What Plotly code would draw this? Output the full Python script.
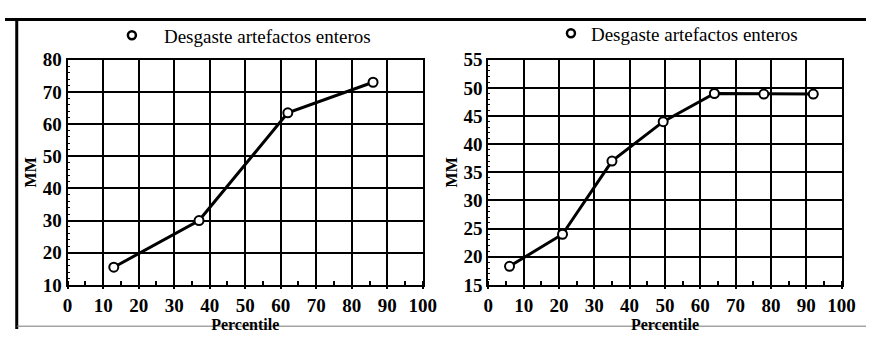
import plotly.graph_objects as go

W, H = 880, 340

left_pct = [13, 37, 62, 86]
left_mm = [15.5, 30, 63.5, 73]
right_pct = [6, 21, 35, 49.5, 64, 78, 92]
right_mm = [18.3, 24, 37, 44, 49, 48.9, 48.9]

series_name = "Desgaste artefactos enteros"
x_title = "Percentile"
y_title = "MM"

FONT = "Liberation Serif"

def px(x):
    return x / W

def py(y):
    return 1 - y / H

fig = go.Figure()

line_style = dict(color="black", width=3)
marker_style = dict(symbol="circle", size=9, color="white", line=dict(color="black", width=2))

fig.add_trace(go.Scatter(x=left_pct, y=left_mm, mode="lines+markers", line=line_style,
                         marker=marker_style, showlegend=False, xaxis="x", yaxis="y"))
fig.add_trace(go.Scatter(x=right_pct, y=right_mm, mode="lines+markers", line=line_style,
                         marker=marker_style, showlegend=False, xaxis="x2", yaxis="y2"))
# legend entries (marker only)
leg_marker = dict(symbol="circle-open", size=8, color="black", line=dict(width=2.5))
fig.add_trace(go.Scatter(x=[None], y=[None], mode="markers", name=series_name,
                         marker=leg_marker, legend="legend", xaxis="x", yaxis="y"))
fig.add_trace(go.Scatter(x=[None], y=[None], mode="markers", name=series_name,
                         marker=leg_marker, legend="legend2", xaxis="x2", yaxis="y2"))

TICKFONT = dict(family=FONT, size=19, color="black", weight="bold")
TITLEFONT = dict(family=FONT, size=16, color="black", weight="bold")

def xaxis(domain, anchor):
    return dict(domain=domain, anchor=anchor, range=[0, 100], dtick=10, tick0=0,
                showgrid=True, gridcolor="black", gridwidth=2,
                showline=True, linecolor="black", linewidth=2, mirror=True,
                ticks="outside", ticklen=2, tickwidth=2, tickcolor="black",
                minor=dict(dtick=5, ticks="inside", ticklen=4, tickwidth=2, tickcolor="black", showgrid=False),
                tickfont=TICKFONT,
                title=dict(text=x_title, font=TITLEFONT, standoff=0),
                zeroline=False, fixedrange=True)

def yaxis(domain, anchor, rng, dt):
    return dict(domain=domain, anchor=anchor, range=rng, dtick=dt, tick0=rng[0],
                showgrid=True, gridcolor="black", gridwidth=2,
                showline=True, linecolor="black", linewidth=2, mirror=True,
                ticks="",
                minor=dict(dtick=dt / 5, ticks="inside", ticklen=2, tickwidth=1, tickcolor="black", showgrid=False),
                tickfont=TICKFONT,
                title=dict(text=y_title, font=TITLEFONT, standoff=2),
                zeroline=False, fixedrange=True)

ydom = [py(293), py(53)]
fig.update_layout(
    width=W, height=H,
    margin=dict(l=0, r=0, t=0, b=0),
    paper_bgcolor="white", plot_bgcolor="white",
    font=dict(family=FONT, color="black"),
    xaxis=xaxis([px(64), px(427)], "y"),
    yaxis=yaxis(ydom, "x", [10, 80], 10),
    xaxis2=xaxis([px(494), px(855)], "y2"),
    yaxis2=yaxis(ydom, "x2", [15, 55], 5),
    legend=dict(x=px(97), y=py(27), xanchor="left", yanchor="middle",
                bgcolor="rgba(0,0,0,0)", font=dict(family=FONT, size=19, color="black"),
                itemwidth=54),
    legend2=dict(x=px(558), y=py(25), xanchor="left", yanchor="middle",
                 bgcolor="rgba(0,0,0,0)", font=dict(family=FONT, size=19, color="black"),
                 itemwidth=30),
    shapes=[
        dict(type="line", xref="paper", yref="paper", x0=0, x1=1, y0=py(10), y1=py(10),
             line=dict(color="black", width=3)),
        dict(type="line", xref="paper", yref="paper", x0=px(12), x1=px(12), y0=py(10), y1=py(340),
             line=dict(color="black", width=3)),
        dict(type="line", xref="paper", yref="paper", x0=px(12), x1=1, y0=py(337), y1=py(337),
             line=dict(color="#777", width=1)),
    ],
)

fig.write_html("out.html")
